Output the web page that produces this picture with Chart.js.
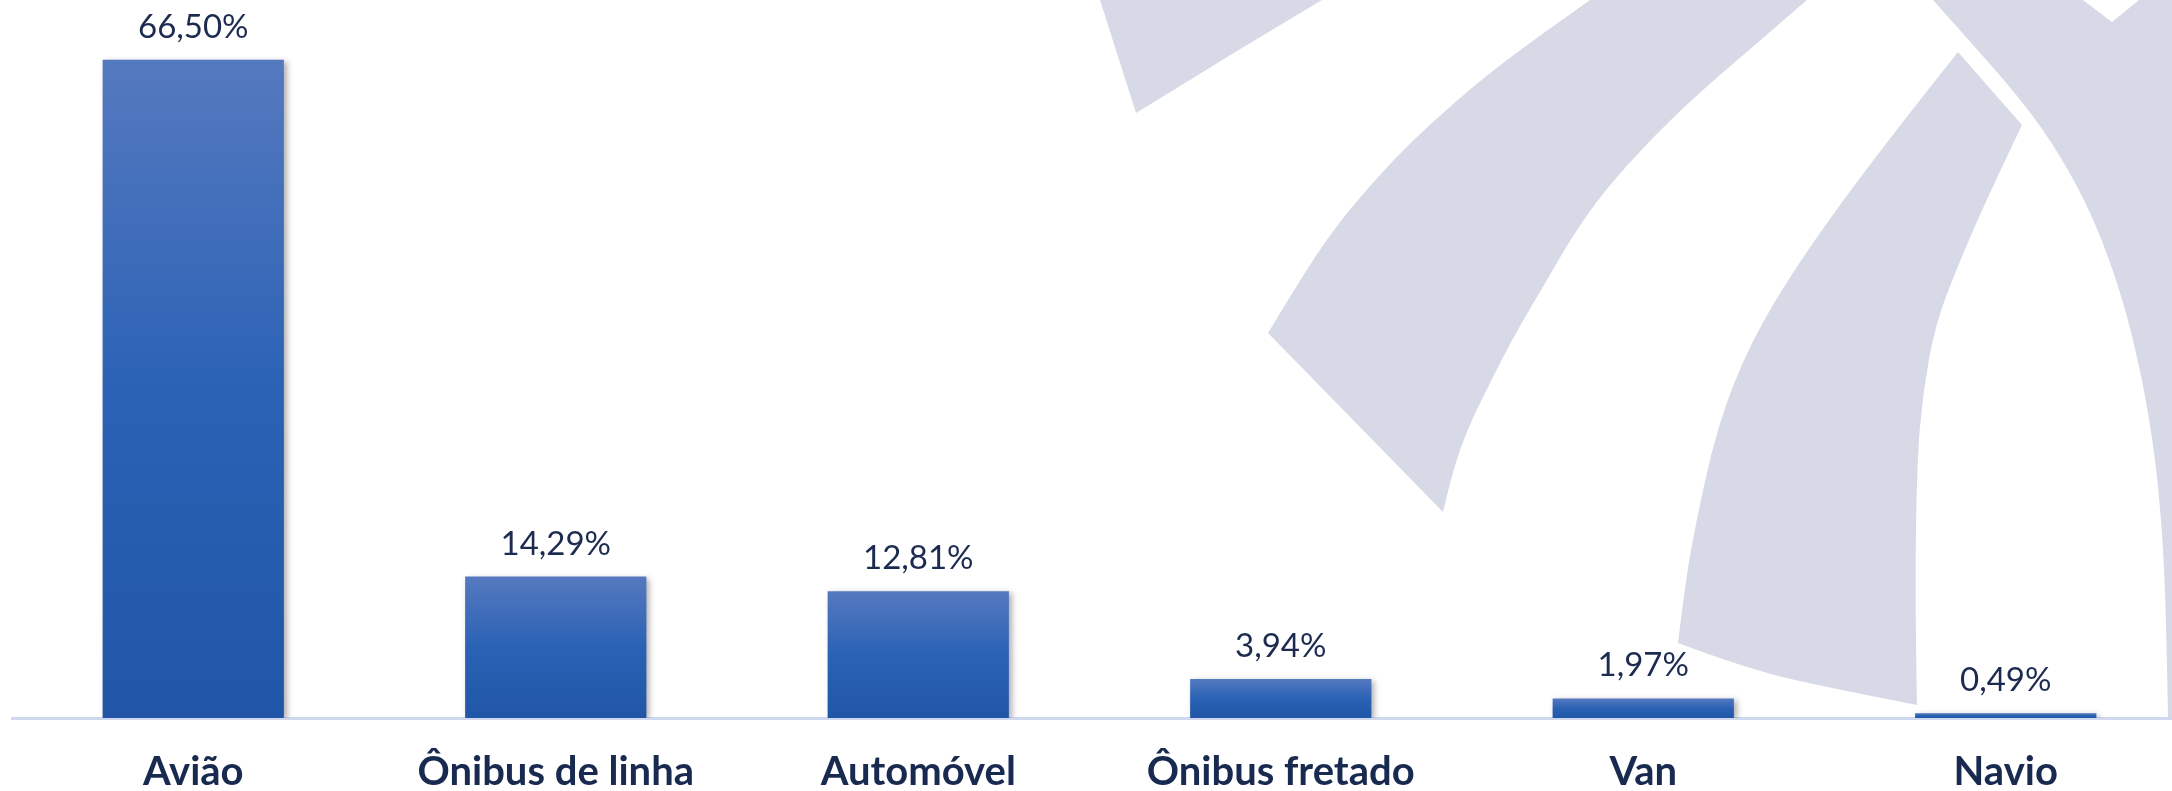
<!DOCTYPE html>
<html><head><meta charset="utf-8">
<script src="https://cdn.jsdelivr.net/npm/chart.js@4.4.1/dist/chart.umd.min.js"></script>
<style>
html,body{margin:0;padding:0;background:#fff;overflow:hidden;width:2172px;height:791px;}
#wrap{position:absolute;left:0;top:0;width:2190px;height:791px;}
canvas{display:block;}
</style></head><body>
<div id="wrap"><canvas id="c" width="2190" height="791"></canvas></div>
<script>
// ---- data ----
const categories = ['Avião', 'Ônibus de linha', 'Automóvel', 'Ônibus fretado', 'Van', 'Navio'];
const shares = [66.50, 14.29, 12.81, 3.94, 1.97, 0.49];
const valueLabels = ['66,50%', '14,29%', '12,81%', '3,94%', '1,97%', '0,49%'];
const yMin = 0;
const yMax = 70;

// ---- decorative watermark (background logo) ----
function traceEdge(ctx, pts, smooth) {
  if (!smooth || pts.length < 3) {
    for (let i = 1; i < pts.length; i++) ctx.lineTo(pts[i][0], pts[i][1]);
    return;
  }
  const n = pts.length - 1;
  for (let i = 1; i < n; i++) {
    const mx = (pts[i][0] + pts[i + 1][0]) / 2, my = (pts[i][1] + pts[i + 1][1]) / 2;
    if (i === n - 1) ctx.quadraticCurveTo(pts[i][0], pts[i][1], pts[n][0], pts[n][1]);
    else ctx.quadraticCurveTo(pts[i][0], pts[i][1], mx, my);
  }
}
const watermarkPlugin = {
  id: 'watermark',
  beforeDraw(chart) {
    const ctx = chart.ctx;
    const shapes = [
      [
        { s: false, p: [[1100,0],[1136,113]] },
        { s: true,  p: [[1136,113],[1190,80],[1245,46],[1322,0]] },
        { s: false, p: [[1322,0],[1100,0]] }
      ],
      [
        { s: true,  p: [[1590,0],[1545,32],[1497,67],[1455,102],[1413,140],[1372,183],[1333,230],[1300,280],[1268,333]] },
        { s: false, p: [[1268,333],[1443,512]] },
        { s: true,  p: [[1443,512],[1453,470],[1467,430],[1485,393],[1503,357],[1522,322],[1543,287],[1573,235],[1605,190],[1652,138],[1700,92],[1755,45],[1807,0]] },
        { s: false, p: [[1807,0],[1590,0]] }
      ],
      [
        { s: true,  p: [[1958,52],[1880,150],[1800,260],[1750,343],[1717,427],[1695,527],[1685,585],[1678,643]] },
        { s: true,  p: [[1678,643],[1750,670],[1840,690],[1917,705]] },
        { s: true,  p: [[1917,705],[1915,600],[1917,460],[1923,393],[1935,325],[1960,260],[1990,192],[2022,125]] },
        { s: false, p: [[2022,125],[1958,52]] }
      ],
      [
        { s: true,  p: [[1933,0],[1975,47],[2017,95],[2052,142],[2085,200],[2110,260],[2132,332],[2150,420],[2160,500],[2166,600],[2168,720]] },
        { s: false, p: [[2168,720],[2200,720],[2200,0],[2139,0],[2112,22],[2083,0],[1933,0]] }
      ]
    ];
    ctx.save();
    ctx.fillStyle = '#d7dae6';
    for (const shape of shapes) {
      ctx.beginPath();
      ctx.moveTo(shape[0].p[0][0], shape[0].p[0][1]);
      for (const e of shape) traceEdge(ctx, e.p, e.s);
      ctx.closePath();
      ctx.fill();
    }
    ctx.restore();
  }
};

const shadowPlugin = {
  id: 'barShadow',
  beforeDatasetsDraw(chart) {
    const ctx = chart.ctx;
    ctx.save();
    ctx.shadowColor = 'rgba(0,0,0,0.32)';
    ctx.shadowBlur = 6;
    ctx.shadowOffsetX = 3;
    ctx.shadowOffsetY = 2;
  },
  afterDatasetsDraw(chart) {
    chart.ctx.restore();
  }
};

const valueLabelPlugin = {
  id: 'valueLabels',
  afterDatasetsDraw(chart) {
    const ctx = chart.ctx;
    const meta = chart.getDatasetMeta(0);
    ctx.save();
    ctx.font = '33px Lato, "Open Sans", sans-serif';
    ctx.fillStyle = '#1c2b4f';
    ctx.textAlign = 'center';
    ctx.textBaseline = 'alphabetic';
    meta.data.forEach((el, i) => {
      ctx.fillText(valueLabels[i], el.x, el.y - 22);
    });
    ctx.restore();
  }
};

function barGradient(c) {
  if (c.type !== 'data') return '#2a61b4';
  const chart = c.chart;
  if (!chart.chartArea || !chart.scales.y) return '#2a61b4';
  const y = chart.scales.y;
  const top = y.getPixelForValue(c.raw);
  const base = y.getPixelForValue(0);
  if (!isFinite(top) || !isFinite(base) || base - top < 1) return '#4a72bd';
  const g = chart.ctx.createLinearGradient(0, top, 0, base);
  g.addColorStop(0, '#5579bf');
  g.addColorStop(0.5, '#2b62b5');
  g.addColorStop(1, '#2156a7');
  return g;
}

new Chart(document.getElementById('c'), {
  type: 'bar',
  data: {
    labels: categories,
    datasets: [{
      data: shares,
      backgroundColor: barGradient,
      borderWidth: 0,
      categoryPercentage: 0.5,
      barPercentage: 1.0
    }]
  },
  options: {
    responsive: false,
    devicePixelRatio: 1,
    animation: false,
    layout: { padding: { top: 25, left: 12, right: 3, bottom: 0 } },
    plugins: { legend: { display: false }, tooltip: { enabled: false } },
    scales: {
      x: {
        grid: { display: false, drawTicks: false },
        border: { display: true, color: '#cfd8ee', width: 3 },
        ticks: {
          color: '#192a50',
          padding: 30,
          maxRotation: 0,
          autoSkip: false,
          font: { family: 'Lato, "Open Sans", sans-serif', size: 40, weight: 'bold' }
        },
        afterFit(s) { s.height = 73; }
      },
      y: {
        display: false,
        min: yMin,
        max: yMax
      }
    }
  },
  plugins: [watermarkPlugin, shadowPlugin, valueLabelPlugin]
});
</script>
</body></html>
